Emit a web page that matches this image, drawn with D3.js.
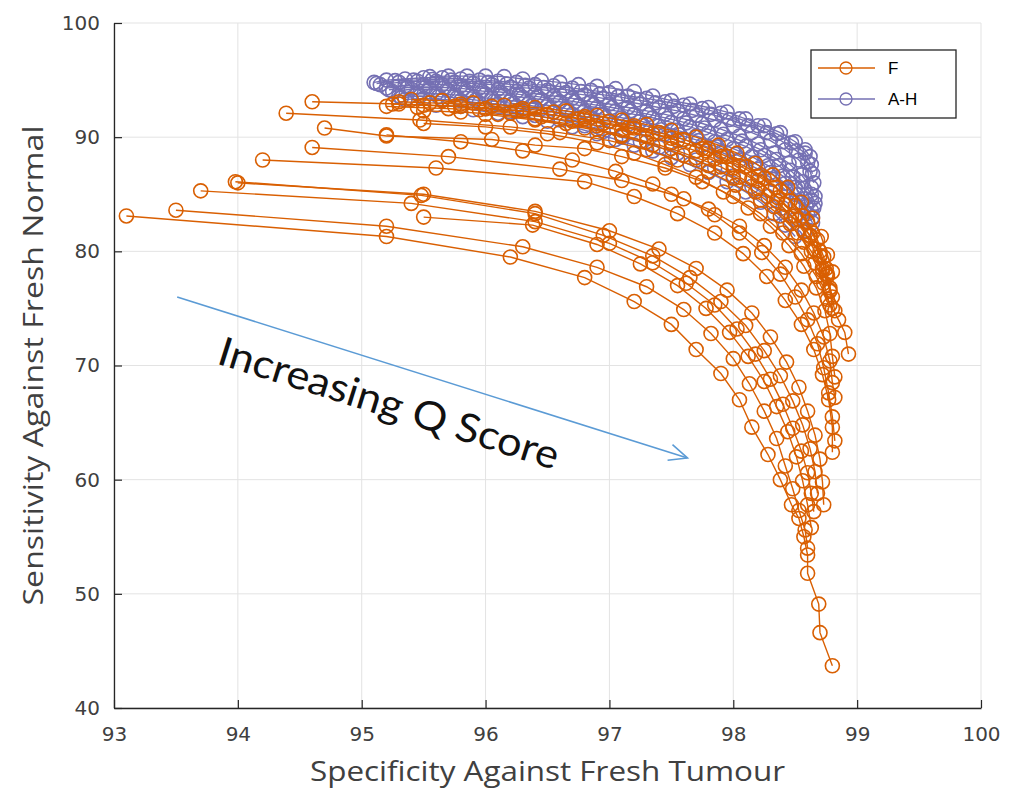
<!DOCTYPE html>
<html>
<head>
<meta charset="utf-8">
<script src="https://cdn.jsdelivr.net/npm/d3@7"></script>
<style>
  html, body { margin: 0; padding: 0; background: #fff; }
  svg { display: block; }
</style>
</head>
<body>
<svg id="chart" width="1011" height="795"></svg>
<script>
// ticks
const xTicks = [93, 94, 95, 96, 97, 98, 99, 100];
const yTicks = [40, 50, 60, 70, 80, 90, 100];

// F curves (specificity, sensitivity)
const f1 = [[93.1,83.1],[95.2,81.3],[96.2,79.5],[96.8,77.7],[97.2,75.6],[97.5,73.6],[97.7,71.4],[97.9,69.3],[98.05,67.0],[98.15,64.6],[98.28,62.2],[98.38,60.0],[98.47,57.8],[98.53,56.6],[98.57,55.0],[98.6,53.4],[98.6,51.8],[98.69,49.1],[98.7,46.6],[98.8,43.7]];
const f2 = [[93.5,83.6],[95.2,82.2],[96.3,80.4],[96.9,78.6],[97.3,76.9],[97.6,74.9],[97.82,72.8],[98.0,70.6],[98.13,68.4],[98.25,66.0],[98.35,63.6],[98.42,61.2],[98.48,59.2],[98.53,57.3],[98.58,55.6],[98.6,54.0]];
const f3 = [[93.7,85.3],[95.4,84.2],[96.4,82.6],[97.0,80.7],[97.35,79.0],[97.62,77.2],[97.85,75.3],[98.03,73.2],[98.18,71.0],[98.3,68.8],[98.4,66.6],[98.48,64.5],[98.55,62.5],[98.6,60.6],[98.63,58.8],[98.65,57.2]];
const f4 = [[94.0,86.0],[95.5,85.0],[96.4,83.5],[97.0,81.8],[97.4,80.2],[97.7,78.5],[97.95,76.6],[98.15,74.6],[98.3,72.5],[98.43,70.3],[98.53,68.1],[98.6,66.0],[98.66,63.9],[98.7,61.8],[98.72,59.8],[98.73,57.8]];
const f5 = [[93.98,86.1],[95.48,84.9],[96.4,83.3],[96.95,81.4],[97.35,79.6],[97.65,77.7],[97.9,75.6],[98.1,73.5],[98.25,71.3],[98.38,69.1],[98.48,66.9],[98.56,64.8],[98.62,62.7],[98.66,60.7],[98.68,58.8]];
const f6 = [[94.2,88.0],[95.6,87.3],[96.8,86.1],[97.2,84.8],[97.55,83.3],[97.85,81.6],[98.08,79.8],[98.27,77.8],[98.42,75.7],[98.55,73.6],[98.65,71.4],[98.72,69.2],[98.77,67.0],[98.8,64.6],[98.8,62.4]];
const f7 = [[94.6,89.1],[95.7,88.3],[96.6,87.2],[97.1,86.2],[97.5,85.0],[97.8,83.7],[98.05,82.2],[98.25,80.5],[98.42,78.6],[98.55,76.6],[98.65,74.6],[98.73,72.5],[98.78,70.4],[98.8,68.5],[98.82,67.2]];
const f8 = [[94.7,90.8],[95.2,90.1],[96.05,89.8],[96.4,89.3],[96.8,89.0],[97.1,88.3],[97.45,87.3],[97.75,86.1],[98.0,84.8],[98.22,83.3],[98.4,81.6],[98.55,79.8],[98.67,77.8],[98.76,75.8],[98.85,74.0],[98.9,72.9],[98.93,71.0]];
const f9 = [[94.39,92.1],[95.47,91.5],[96.2,90.9],[96.6,90.4],[97.0,89.7],[97.3,88.9],[97.55,88.0],[97.8,87.0],[98.02,85.8],[98.22,84.5],[98.38,83.1],[98.52,81.6],[98.63,80.0],[98.72,78.3],[98.78,76.6],[98.82,74.8]];
const f10 = [[94.6,93.1],[95.3,92.9],[95.8,92.7],[96.3,92.3],[96.8,91.6],[97.2,90.8],[97.5,89.9],[97.78,88.8],[98.0,87.6],[98.2,86.2],[98.36,84.7],[98.5,83.1],[98.62,81.4],[98.7,79.6],[98.76,77.8],[98.8,76.0]];
const f11 = [[95.3,93.1],[95.55,93.0],[95.8,92.9],[96.05,92.7],[96.3,92.5],[96.55,92.2],[96.8,91.8],[97.0,91.4],[97.2,91.0],[97.4,90.4],[97.6,89.8],[97.8,89.0],[97.95,88.3],[98.1,87.4],[98.25,86.4],[98.38,85.3],[98.5,84.0],[98.6,82.6],[98.68,81.0],[98.73,79.5],[98.76,78.0]];
const f12 = [[95.2,92.7],[95.45,92.6],[95.7,92.5],[95.95,92.4],[96.2,92.1],[96.45,91.8],[96.7,91.4],[96.9,91.0],[97.1,90.6],[97.3,90.1],[97.5,89.5],[97.7,88.8],[97.85,88.1],[98.0,87.3],[98.15,86.4],[98.3,85.3],[98.42,84.1],[98.53,82.8],[98.62,81.3],[98.7,79.6],[98.75,78.0],[98.78,76.5]];
const f13 = [[95.5,92.3],[95.8,92.2],[96.1,92.0],[96.4,91.6],[96.65,91.2],[96.9,90.7],[97.1,90.2],[97.3,89.6],[97.5,89.0],[97.7,88.2],[97.9,87.4],[98.05,86.5],[98.2,85.5],[98.35,84.4],[98.47,83.1],[98.57,81.7],[98.65,80.2],[98.72,78.5],[98.78,76.8],[98.8,75.0]];
const f14 = [[95.5,91.2],[96.0,90.9],[96.5,90.3],[96.9,89.5],[97.2,88.6],[97.45,87.6],[97.7,86.5],[97.92,85.2],[98.12,83.8],[98.3,82.2],[98.45,80.5],[98.57,78.7],[98.67,76.8],[98.74,74.8],[98.78,72.8],[98.8,70.8],[98.82,69.0]];
const f15 = [[95.2,90.2],[95.8,89.6],[96.3,88.8],[96.7,88.0],[97.05,87.0],[97.35,85.9],[97.6,84.6],[97.85,83.2],[98.05,81.6],[98.23,79.9],[98.38,78.0],[98.5,76.0],[98.6,74.0],[98.68,71.9],[98.73,69.8],[98.77,67.6],[98.8,65.5],[98.82,63.4]];
const f16 = [[96.0,92.0],[96.4,91.5],[96.8,90.8],[97.1,90.1],[97.35,89.3],[97.6,88.4],[97.8,87.5],[98.0,86.4],[98.18,85.2],[98.33,83.9],[98.46,82.4],[98.57,80.8],[98.66,79.0],[98.73,77.2],[98.78,75.3]];
const f17 = [[95.5,83.0],[96.38,82.3],[96.9,80.6],[97.25,78.9],[97.55,77.0],[97.78,75.0],[97.97,72.9],[98.12,70.8],[98.25,68.6],[98.35,66.4],[98.44,64.2],[98.51,62.0],[98.56,59.9],[98.6,57.8],[98.63,55.8]];
const f18 = [[95.4,93.3],[95.65,93.2],[95.9,93.0],[96.15,92.8],[96.4,92.6],[96.65,92.3],[96.9,91.9],[97.1,91.5],[97.3,91.1],[97.5,90.6],[97.7,90.0],[97.88,89.3],[98.03,88.6],[98.18,87.7],[98.32,86.7],[98.44,85.6],[98.55,84.3],[98.64,82.9],[98.71,81.3],[98.76,79.7],[98.8,78.2]];
const f19 = [[95.25,92.9],[95.5,92.8],[95.75,92.7],[96.0,92.5],[96.25,92.3],[96.5,92.0],[96.75,91.6],[96.95,91.2],[97.15,90.8],[97.35,90.3],[97.55,89.7],[97.75,89.0],[97.9,88.3],[98.05,87.5],[98.2,86.6],[98.34,85.6],[98.46,84.4],[98.56,83.1],[98.64,81.6],[98.7,80.0],[98.75,78.5]];
const fCurves = [f1, f2, f3, f4, f5, f6, f7, f8, f9, f10, f11, f12, f13, f14, f15, f16, f17, f18, f19];

// A-H curves
const ah1 = [[95.1,94.8],[95.2,95.0],[95.35,95.1],[95.5,95.2],[95.65,95.2],[95.8,95.1],[95.95,95.0],[96.1,94.9],[96.25,94.8],[96.4,94.6],[96.55,94.5],[96.7,94.3],[96.85,94.1],[97.0,93.9],[97.15,93.6],[97.3,93.4],[97.45,93.1],[97.6,92.8],[97.75,92.5],[97.9,92.1],[98.05,91.6],[98.2,91.0],[98.35,90.3],[98.47,89.5],[98.58,88.6],[98.63,87.6]];
const ah2 = [[95.15,94.6],[95.3,94.8],[95.45,94.9],[95.6,94.9],[95.75,94.8],[95.9,94.7],[96.05,94.6],[96.2,94.4],[96.35,94.3],[96.5,94.1],[96.65,93.9],[96.8,93.7],[96.95,93.4],[97.1,93.2],[97.25,92.9],[97.4,92.6],[97.55,92.3],[97.7,91.9],[97.85,91.5],[98.0,91.0],[98.15,90.4],[98.3,89.7],[98.42,88.9],[98.53,88.0],[98.62,87.0],[98.65,86.0]];
const ah3 = [[95.2,94.3],[95.35,94.5],[95.5,94.6],[95.65,94.6],[95.8,94.5],[95.95,94.3],[96.1,94.2],[96.25,94.0],[96.4,93.8],[96.55,93.6],[96.7,93.4],[96.85,93.1],[97.0,92.9],[97.15,92.6],[97.3,92.3],[97.45,92.0],[97.6,91.6],[97.75,91.2],[97.9,90.7],[98.05,90.1],[98.2,89.4],[98.33,88.6],[98.45,87.7],[98.55,86.7],[98.63,85.6],[98.66,84.8]];
const ah4 = [[95.25,94.0],[95.4,94.2],[95.55,94.2],[95.7,94.1],[95.85,94.0],[96.0,93.8],[96.15,93.7],[96.3,93.5],[96.45,93.3],[96.6,93.1],[96.75,92.8],[96.9,92.6],[97.05,92.3],[97.2,92.0],[97.35,91.7],[97.5,91.3],[97.65,90.9],[97.8,90.4],[97.95,89.8],[98.1,89.2],[98.25,88.4],[98.37,87.5],[98.48,86.5],[98.57,85.5],[98.63,84.5],[98.65,83.8]];
const ah5 = [[95.3,93.6],[95.45,93.8],[95.6,93.8],[95.75,93.7],[95.9,93.5],[96.05,93.4],[96.2,93.2],[96.35,93.0],[96.5,92.8],[96.65,92.5],[96.8,92.3],[96.95,92.0],[97.1,91.7],[97.25,91.4],[97.4,91.0],[97.55,90.6],[97.7,90.1],[97.85,89.6],[98.0,89.0],[98.15,88.3],[98.28,87.5],[98.4,86.6],[98.5,85.6],[98.58,84.6],[98.63,83.6]];
const ah6 = [[95.35,93.3],[95.5,93.4],[95.65,93.3],[95.8,93.2],[95.95,93.0],[96.1,92.9],[96.25,92.7],[96.4,92.5],[96.55,92.2],[96.7,92.0],[96.85,91.7],[97.0,91.4],[97.15,91.1],[97.3,90.7],[97.45,90.3],[97.6,89.8],[97.75,89.3],[97.9,88.7],[98.05,88.0],[98.2,87.2],[98.32,86.3],[98.43,85.3],[98.52,84.3],[98.6,83.3],[98.64,82.5]];
const ah7 = [[95.6,92.8],[95.8,92.7],[96.0,92.5],[96.2,92.2],[96.4,91.9],[96.6,91.5],[96.8,91.0],[96.95,90.5],[97.1,90.0],[97.25,89.6],[97.4,89.1],[97.55,88.6],[97.7,88.0],[97.85,87.3],[98.0,86.6],[98.15,85.7],[98.28,84.8],[98.4,83.8],[98.5,82.8],[98.58,81.8]];
const ah8 = [[95.12,94.7],[95.27,94.95],[95.42,95.0],[95.57,95.05],[95.72,95.0],[95.87,94.9],[96.02,94.8],[96.17,94.65],[96.32,94.55],[96.47,94.35],[96.62,94.2],[96.77,94.0],[96.92,93.75],[97.07,93.55],[97.22,93.25],[97.37,93.0],[97.52,92.7],[97.67,92.35],[97.82,92.0],[97.97,91.55],[98.12,91.0],[98.27,90.4],[98.4,89.6],[98.51,88.8],[98.6,87.8],[98.64,86.8]];
const ah9 = [[95.22,94.15],[95.37,94.35],[95.52,94.4],[95.67,94.35],[95.82,94.25],[95.97,94.05],[96.12,93.95],[96.27,93.75],[96.42,93.55],[96.57,93.35],[96.72,93.1],[96.87,92.85],[97.02,92.6],[97.17,92.3],[97.32,92.0],[97.47,91.65],[97.62,91.25],[97.77,90.8],[97.92,90.25],[98.07,89.65],[98.22,88.9],[98.35,88.05],[98.46,87.1],[98.56,86.1],[98.63,85.0],[98.66,84.2]];
const ah10 = [[95.32,93.45],[95.47,93.6],[95.62,93.55],[95.77,93.45],[95.92,93.25],[96.07,93.15],[96.22,92.95],[96.37,92.75],[96.52,92.5],[96.67,92.25],[96.82,92.0],[96.97,91.7],[97.12,91.4],[97.27,91.05],[97.42,90.65],[97.57,90.2],[97.72,89.7],[97.87,89.15],[98.02,88.5],[98.17,87.75],[98.3,86.9],[98.42,85.95],[98.51,84.95],[98.59,83.95],[98.64,83.0]];
const ah11 = [[95.9,92.4],[96.1,92.1],[96.3,91.8],[96.5,91.4],[96.7,90.9],[96.9,90.3],[97.05,89.8],[97.2,89.3],[97.35,88.8],[97.5,88.2],[97.65,87.6],[97.8,86.9],[97.95,86.1],[98.1,85.2],[98.22,84.3],[98.33,83.3],[98.42,82.3],[98.5,81.3]];
const ah12 = [[95.55,95.3],[95.7,95.35],[95.85,95.35],[96.0,95.35],[96.15,95.3],[96.3,95.1],[96.45,94.95],[96.6,94.8],[96.75,94.6],[96.9,94.45],[97.05,94.25],[97.2,94.0],[97.35,93.6],[97.5,93.2],[97.65,92.9],[97.8,92.6],[97.95,92.2],[98.1,91.6],[98.25,91.0],[98.38,90.4],[98.5,89.6],[98.58,88.9],[98.62,88.3]];
const ahCurves = [ah1, ah2, ah3, ah4, ah5, ah6, ah7, ah8, ah9, ah10, ah11, ah12];

// annotation arrow (data coords)
const arrowFrom = [93.51, 76.0];
const arrowTo = [97.63, 61.9];
const notePos = [95.22, 66.7];

const colorF = '#D95F02';
const colorAH = '#7570B3';

const svg = d3.select('#chart');
const margin = { top: 23, right: 30, bottom: 87, left: 114 };
const W = 1011, H = 795;

const x = d3.scaleLinear().domain([93, 100]).range([margin.left, W - margin.right]);
const y = d3.scaleLinear().domain([40, 100]).range([H - margin.bottom, margin.top]);

svg.append('rect').attr('width', W).attr('height', H).attr('fill', '#fff');

// grid
const grid = svg.append('g').attr('stroke', '#e3e3e3').attr('stroke-width', 1);
grid.selectAll('line.gx').data(xTicks).join('line')
  .attr('x1', d => x(d)).attr('x2', d => x(d))
  .attr('y1', y(40)).attr('y2', y(100));
grid.selectAll('line.gy').data(yTicks).join('line')
  .attr('x1', x(93)).attr('x2', x(100))
  .attr('y1', d => y(d)).attr('y2', d => y(d));

// series
const line = d3.line().x(d => x(d[0])).y(d => y(d[1]));

function drawCurves(curves, color) {
  const g = svg.append('g');
  curves.forEach(c => {
    g.append('path').attr('d', line(c))
      .attr('fill', 'none').attr('stroke', color).attr('stroke-width', 1.4);
    g.append('g').selectAll('circle').data(c).join('circle')
      .attr('cx', d => x(d[0])).attr('cy', d => y(d[1])).attr('r', 7)
      .attr('fill', 'none').attr('stroke', color).attr('stroke-width', 1.6);
  });
}
drawCurves(ahCurves, colorAH);
drawCurves(fCurves, colorF);

// axes
const xAxis = svg.append('g')
  .attr('transform', `translate(0,${y(40)})`)
  .call(d3.axisBottom(x).tickValues(xTicks).tickFormat(d3.format('d'))
    .tickSizeInner(-8).tickSizeOuter(0).tickPadding(19));
const yAxis = svg.append('g')
  .attr('transform', `translate(${x(93)},0)`)
  .call(d3.axisLeft(y).tickValues(yTicks).tickFormat(d3.format('d'))
    .tickSizeInner(-8).tickSizeOuter(0).tickPadding(14));

[xAxis, yAxis].forEach(a => {
  a.select('.domain').attr('stroke', '#262626').attr('stroke-width', 1.3);
  a.selectAll('.tick line').attr('stroke', '#262626').attr('stroke-width', 1.2);
  a.selectAll('.tick text')
    .attr('fill', '#404040')
    .attr('font-family', 'DejaVu Sans, sans-serif')
    .attr('font-size', 20);
});

// axis labels
svg.append('text')
  .attr('x', (x(93) + x(100)) / 2).attr('y', 781)
  .attr('text-anchor', 'middle')
  .attr('font-family', 'Open Sans, sans-serif').attr('font-size', 27)
  .attr('fill', '#404040')
  .attr('textLength', 475).attr('lengthAdjust', 'spacingAndGlyphs')
  .text('Specificity Against Fresh Tumour');

svg.append('text')
  .attr('transform', `translate(43,${(y(40) + y(100)) / 2}) rotate(-90)`)
  .attr('text-anchor', 'middle')
  .attr('font-family', 'Open Sans, sans-serif').attr('font-size', 27)
  .attr('fill', '#404040')
  .attr('textLength', 480).attr('lengthAdjust', 'spacingAndGlyphs')
  .text('Sensitivity Against Fresh Normal');

// annotation
const ax1 = x(arrowFrom[0]), ay1 = y(arrowFrom[1]);
const ax2 = x(arrowTo[0]), ay2 = y(arrowTo[1]);
const ang = Math.atan2(ay2 - ay1, ax2 - ax1);
const head = 20, spread = 0.42;
const arrow = svg.append('g').attr('stroke', '#5B9BD5').attr('stroke-width', 1.6).attr('fill', 'none');
arrow.append('line').attr('x1', ax1).attr('y1', ay1).attr('x2', ax2).attr('y2', ay2);
arrow.append('path')
  .attr('d', `M${ax2 - head * Math.cos(ang - spread)},${ay2 - head * Math.sin(ang - spread)}L${ax2},${ay2}L${ax2 - head * Math.cos(ang + spread)},${ay2 - head * Math.sin(ang + spread)}`);

svg.append('text')
  .attr('transform', `translate(${x(notePos[0])},${y(notePos[1])}) rotate(${ang * 180 / Math.PI})`)
  .attr('text-anchor', 'middle').attr('dy', '0.35em')
  .attr('font-family', 'Lato, sans-serif').attr('font-size', 40)
  .attr('fill', '#111')
  .attr('textLength', 355).attr('lengthAdjust', 'spacingAndGlyphs')
  .text('Increasing Q Score');

// legend
const legend = svg.append('g');
legend.append('rect').attr('x', 811).attr('y', 50).attr('width', 145).attr('height', 68)
  .attr('fill', '#fff').attr('stroke', '#262626').attr('stroke-width', 1.3);
const legendItems = [{ label: 'F', color: colorF }, { label: 'A-H', color: colorAH }];
legendItems.forEach((d, i) => {
  const ly = 68 + i * 31;
  legend.append('line').attr('x1', 818).attr('x2', 875).attr('y1', ly).attr('y2', ly)
    .attr('stroke', d.color).attr('stroke-width', 1.3);
  legend.append('circle').attr('cx', 846).attr('cy', ly).attr('r', 6)
    .attr('fill', 'none').attr('stroke', d.color).attr('stroke-width', 1.3);
  legend.append('text').attr('x', 888).attr('y', ly).attr('dy', '0.35em')
    .attr('font-family', 'Liberation Sans, Arial, sans-serif').attr('font-size', 17)
    .attr('fill', '#000').text(d.label);
});
</script>
</body>
</html>
